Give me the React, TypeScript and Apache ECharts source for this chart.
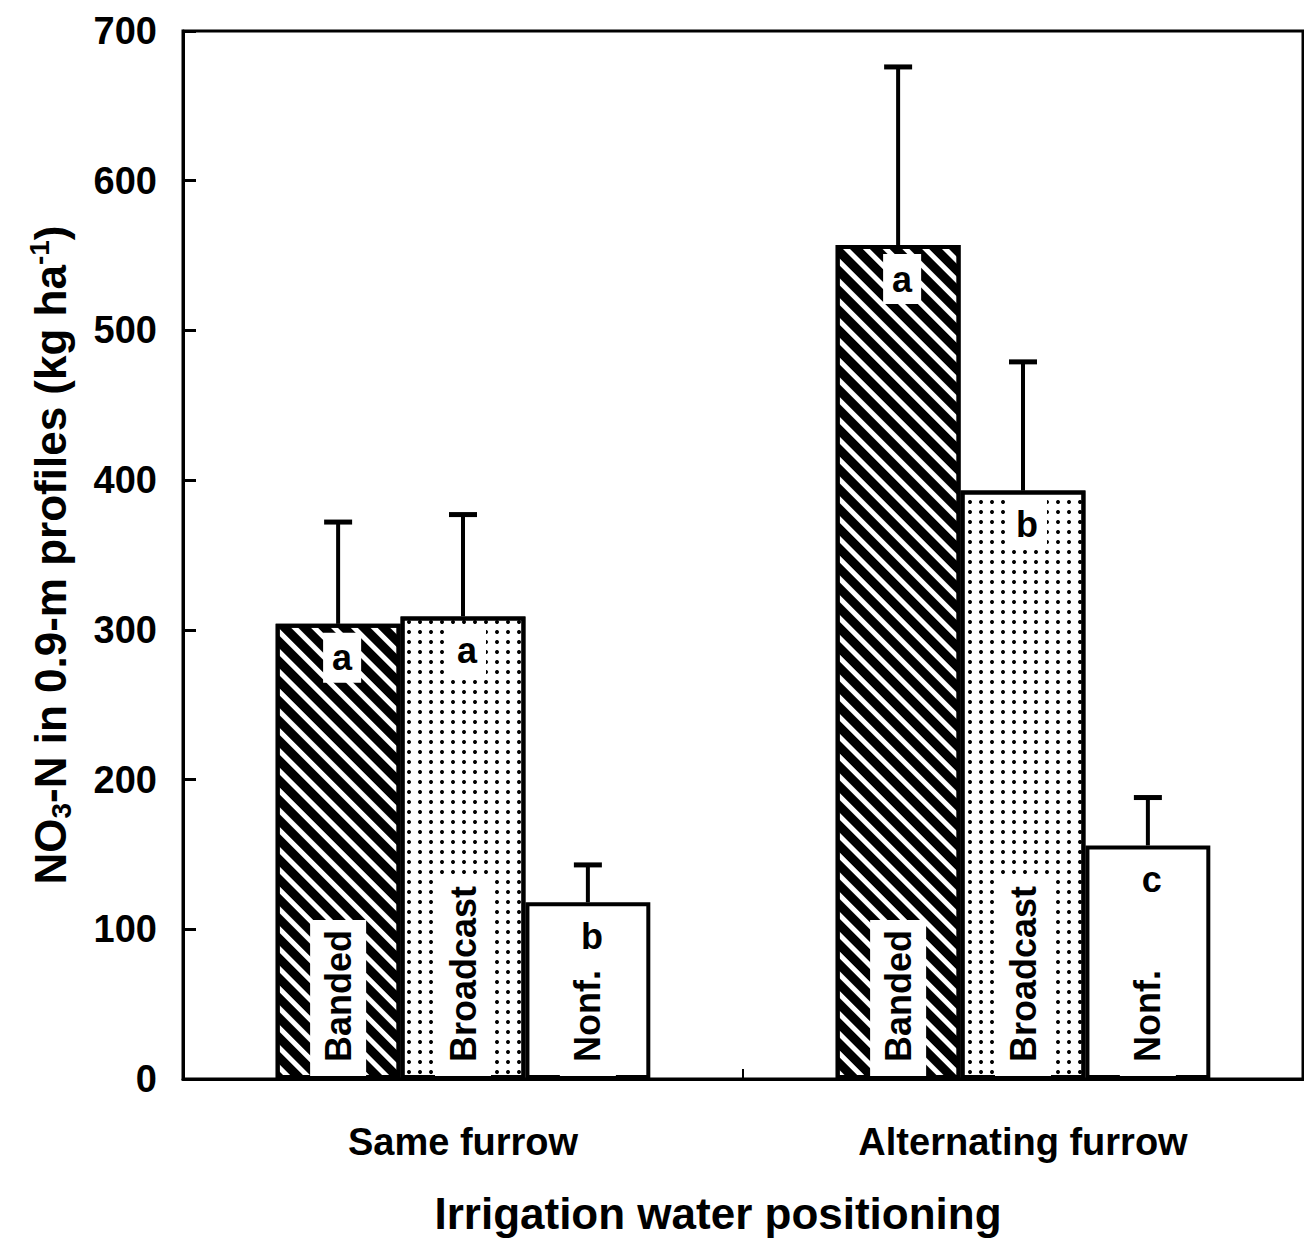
import React, { useEffect, useRef } from "react";
import * as echarts from "echarts";

const categories = ["Same furrow", "Alternating furrow"];
const treatments = ["Banded", "Broadcast", "Nonf."];
const bandedValues = [304, 557];
const broadcastValues = [309, 393];
const nonfValues = [118, 156];
const bandedUpper = [372, 676];
const broadcastUpper = [377, 479];
const nonfUpper = [143, 188];
const bandedLetters = ["a", "a"];
const broadcastLetters = ["a", "b"];
const nonfLetters = ["b", "c"];
const yTicks = [0, 100, 200, 300, 400, 500, 600, 700];

const FONT = '"Liberation Sans", Arial, Helvetica, sans-serif';
const BAR_FRAC = 0.223;

export default function App() {
  const ref = useRef<HTMLDivElement>(null);
  useEffect(() => {
    document.body.style.margin = "0";
    const chart = echarts.init(ref.current!, undefined, { renderer: "svg" });

    const values = [bandedValues, broadcastValues, nonfValues];
    const uppers = [bandedUpper, broadcastUpper, nonfUpper];
    const letters = [bandedLetters, broadcastLetters, nonfLetters];

    const decals: any[] = [
      {
        symbol: "rect",
        symbolSize: 1,
        color: "#000",
        dashArrayX: [1, 0],
        dashArrayY: [9, 5],
        rotation: Math.PI / 4,
      },
      {
        symbol: "circle",
        symbolSize: 1,
        color: "#000",
        dashArrayX: [4, 7],
        dashArrayY: [4, 6],
        rotation: 0,
      },
      null,
    ];

    const barSeries = treatments.map((t, k) => ({
      name: t,
      type: "bar",
      data: values[k],
      barWidth: "22.3%",
      barGap: "0%",
      itemStyle: {
        color: "#fff",
        borderColor: "#000",
        borderWidth: 4,
        ...(decals[k] ? { decal: decals[k] } : {}),
      },
      label: {
        show: true,
        formatter: t,
        position: "insideBottom",
        rotate: 90,
        align: "left",
        verticalAlign: "middle",
        distance: 3,
        fontFamily: FONT,
        fontWeight: "bold",
        fontSize: 36,
        color: "#000",
        backgroundColor: "#fff",
        padding: [10, 10, 10, 14],
      },
    }));

    const errData: any[] = [];
    treatments.forEach((t, k) => {
      categories.forEach((c, i) => {
        errData.push([i, values[k][i], uppers[k][i], k, letters[k][i]]);
      });
    });

    const errSeries = {
      type: "custom",
      data: errData,
      z: 10,
      renderItem: (params: any, api: any) => {
        const ci = api.value(0);
        const v = api.value(1);
        const u = api.value(2);
        const k = api.value(3);
        const letter = errData[params.dataIndex][4];
        const top = api.coord([ci, v]);
        const up = api.coord([ci, u]);
        const band = api.size([1, 0])[0];
        const bw = band * BAR_FRAC;
        const x = top[0] + (k - 1) * bw;
        return {
          type: "group",
          children: [
            {
              type: "line",
              shape: { x1: x, y1: top[1], x2: x, y2: up[1] },
              style: { stroke: "#000", lineWidth: 4 },
            },
            {
              type: "line",
              shape: { x1: x - 14, y1: up[1], x2: x + 14, y2: up[1] },
              style: { stroke: "#000", lineWidth: 5 },
            },
            {
              type: "text",
              style: {
                text: letter,
                x: x + 4,
                y: top[1] + 34,
                fill: "#000",
                font: `bold 36px ${FONT}`,
                align: "center",
                verticalAlign: "middle",
                backgroundColor: "#fff",
                padding: [7, 9, 7, 9],
              },
            },
          ],
        };
      },
    };

    chart.setOption({
      animation: false,
      grid: {
        left: 183,
        right: 1,
        top: 31,
        bottom: 175,
        show: true,
        borderColor: "#000",
        borderWidth: 3,
        backgroundColor: "transparent",
      },
      xAxis: {
        type: "category",
        data: categories,
        boundaryGap: true,
        axisLine: { lineStyle: { color: "#000", width: 3 } },
        axisTick: { show: true, inside: true, length: 10, lineStyle: { color: "#000", width: 2 } },
        axisLabel: {
          fontFamily: FONT,
          fontWeight: "bold",
          fontSize: 38,
          color: "#000",
          margin: 44,
        },
        name: "Irrigation water positioning",
        nameLocation: "middle",
        nameGap: 112,
        nameTextStyle: {
          fontFamily: FONT,
          fontWeight: "bold",
          fontSize: 44,
          color: "#000",
          padding: [0, 50, 0, 0],
        },
      },
      yAxis: {
        type: "value",
        min: yTicks[0],
        max: yTicks[yTicks.length - 1],
        interval: 100,
        splitLine: { show: false },
        axisLine: { show: true, lineStyle: { color: "#000", width: 3 } },
        axisTick: { show: true, inside: true, length: 13, lineStyle: { color: "#000", width: 3 } },
        axisLabel: {
          fontFamily: FONT,
          fontWeight: "bold",
          fontSize: 38,
          color: "#000",
          margin: 26,
        },
        name: "{n|NO}{s|3}{n|-N in 0.9-m profiles (kg ha}{p|-1}{n|)}",
        nameLocation: "middle",
        nameGap: 108,
        nameTextStyle: {
          color: "#000",
          rich: {
            n: { fontFamily: FONT, fontWeight: "bold", fontSize: 44, lineHeight: 50, color: "#000" },
            s: { fontFamily: FONT, fontWeight: "bold", fontSize: 28, lineHeight: 26, verticalAlign: "bottom", color: "#000" },
            p: { fontFamily: FONT, fontWeight: "bold", fontSize: 28, lineHeight: 26, verticalAlign: "top", color: "#000" },
          },
        },
      },
      series: [...barSeries, errSeries],
    });
    return () => chart.dispose();
  }, []);
  return (
    <div
      ref={ref}
      style={{ position: "absolute", left: 0, top: 0, width: 1304, height: 1254, background: "#fff" }}
    />
  );
}
